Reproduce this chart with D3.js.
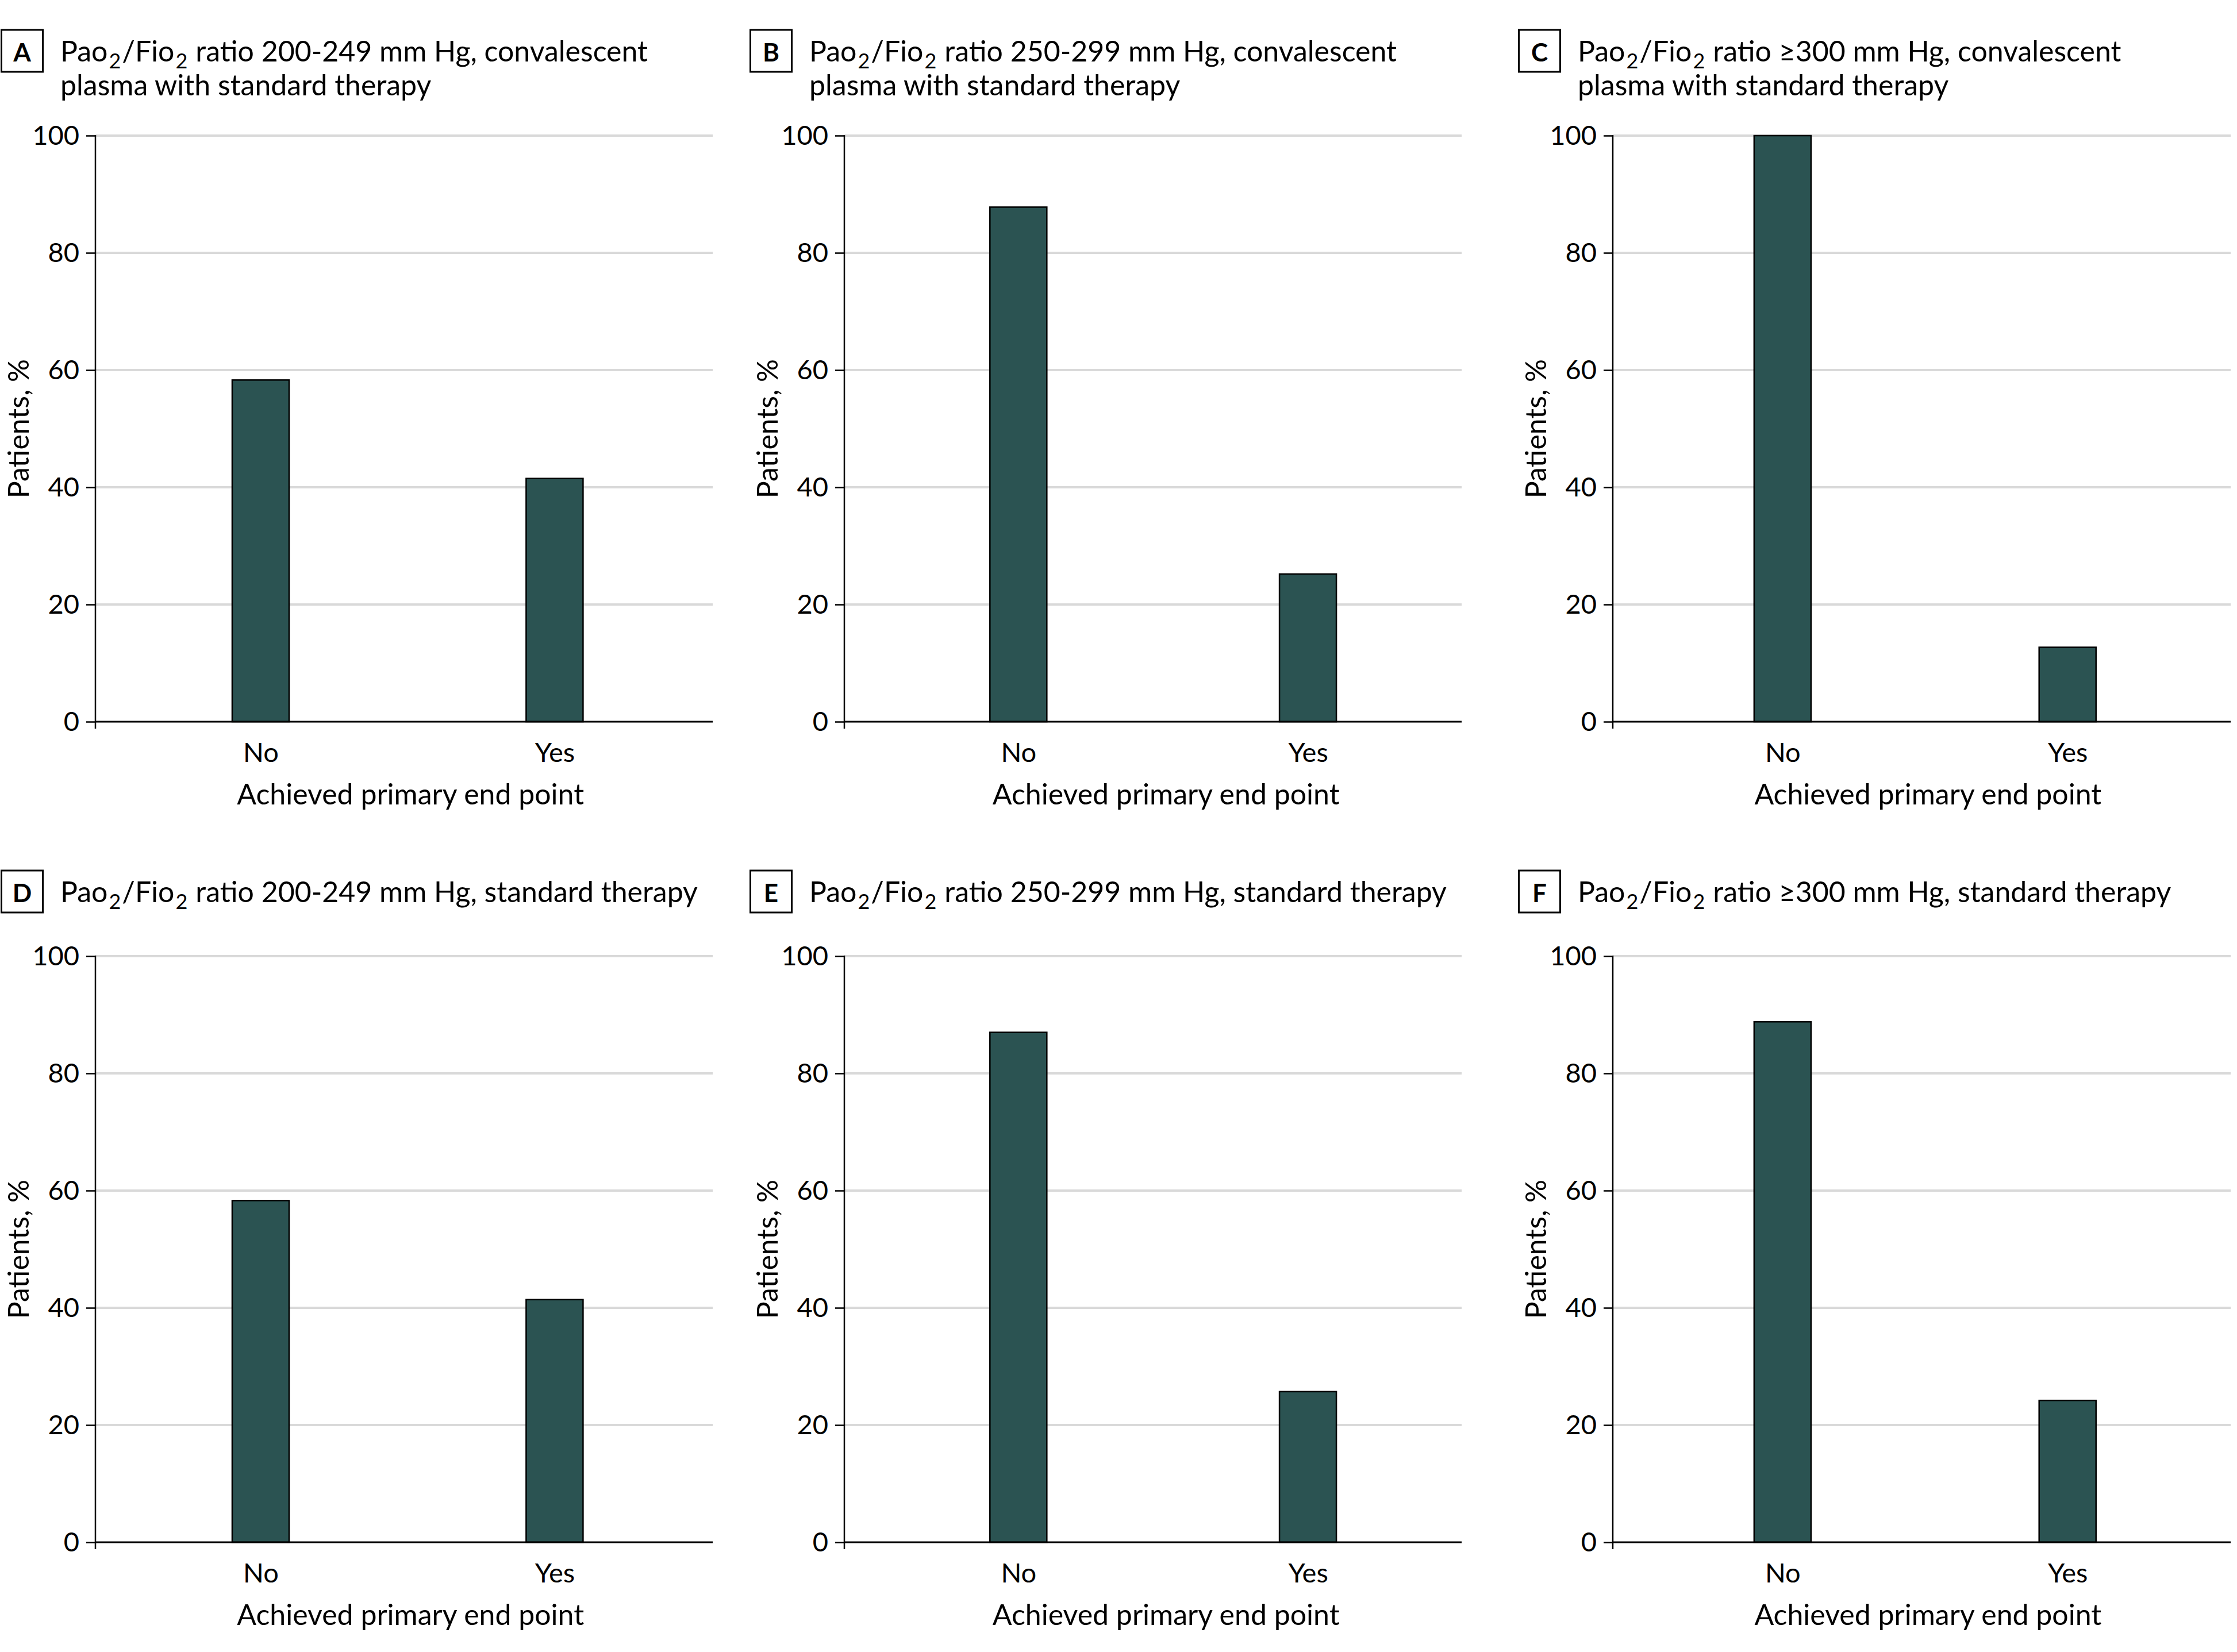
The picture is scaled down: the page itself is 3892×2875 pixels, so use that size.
<!DOCTYPE html>
<html>
<head>
<meta charset="utf-8">
<script src="https://cdn.jsdelivr.net/npm/d3@7"></script>
<style>
  html, body { margin: 0; padding: 0; background: #ffffff; }
  svg { display: block; }
  text { font-family: Lato, "Noto Sans", sans-serif; fill: #000; }
</style>
</head>
<body>
<script>
// ---------------- data ----------------
const categories = ["No", "Yes"];
const panelLetters = ["A", "B", "C", "D", "E", "F"];
const ratioRanges = ["200-249", "250-299", "≥300", "200-249", "250-299", "≥300"];
const therapies = [
  "convalescent plasma with standard therapy",
  "convalescent plasma with standard therapy",
  "convalescent plasma with standard therapy",
  "standard therapy",
  "standard therapy",
  "standard therapy"
];
const noValues  = [58.3, 87.8, 100, 58.3, 87.0, 88.8];
const yesValues = [41.5, 25.2, 12.7, 41.4, 25.7, 24.2];
const yTicks = [0, 20, 40, 60, 80, 100];
const yAxisTitle = "Patients, %";
const xAxisTitle = "Achieved primary end point";

// ---------------- layout ----------------
const W = 3892, H = 2875;
const cols = [
  { box: 1,    axis: 166,  right: 1240, pad: 0.550, align: 0.511 },
  { box: 1304, axis: 1469, right: 2543, pad: 0.566, align: 0.531 },
  { box: 2641, axis: 2806, right: 3881, pad: 0.584, align: 0.510 }
];
const rows = [
  { titleBase: 107,  top: 236,  bottom: 1256 },
  { titleBase: 1570, top: 1664, bottom: 2684 }
];
const barColor = "#2b5352";
const gridColor = "#d9d9d9";
const titleSize = 50, tickSize = 47, labelSize = 50;

const svg = d3.select("body").append("svg")
  .attr("width", W).attr("height", H)
  .attr("viewBox", `0 0 ${W} ${H}`);
svg.append("rect").attr("width", W).attr("height", H).attr("fill", "#fff");

function titleLines(i) {
  const rest = `ratio ${ratioRanges[i]} mm Hg, `;
  const head = [{t: "Pao"}, {t: "2", sub: true}, {t: "/Fio"}, {t: "2", sub: true, gap: 12}];
  if (i < 3) {
    return [
      head.concat([{t: rest + "convalescent"}]),
      [{t: "plasma with standard therapy"}]
    ];
  }
  return [head.concat([{t: rest + therapies[i]}])];
}

panelLetters.forEach((letter, i) => {
  const c = cols[i % 3], r = rows[Math.floor(i / 3)];
  const g = svg.append("g");

  // panel letter box
  g.append("rect")
    .attr("x", c.box + 1.5).attr("y", r.titleBase - 55)
    .attr("width", 72).attr("height", 73)
    .attr("fill", "none").attr("stroke", "#000").attr("stroke-width", 3);
  g.append("text")
    .attr("x", c.box + 37.5).attr("y", r.titleBase)
    .attr("text-anchor", "middle")
    .attr("font-size", 44).attr("font-weight", 700)
    .text(letter);

  // title: each segment its own text element, placed after the previous one
  const lines = titleLines(i);
  lines.forEach((segs, li) => {
    let cx = c.box + 104;
    const base = r.titleBase + li * 59;
    segs.forEach(s => {
      const fs = s.sub ? titleSize * 0.72 : titleSize;
      const t = g.append("text")
        .attr("x", cx).attr("y", base + (s.sub ? 12 : 0))
        .attr("font-size", fs)
        .text(s.t);
      cx += t.node().getComputedTextLength() + 2 + (s.gap || 0);
    });
  });

  // scales
  const y = d3.scaleLinear().domain([0, 100]).range([r.bottom, r.top]);
  const x = d3.scalePoint().domain(categories)
    .range([c.axis, c.right]).padding(c.pad).align(c.align);
  const barW = 99;

  // gridlines
  g.append("g").selectAll("line").data(yTicks.filter(d => d > 0)).join("line")
    .attr("x1", c.axis).attr("x2", c.right)
    .attr("y1", d => y(d)).attr("y2", d => y(d))
    .attr("stroke", gridColor).attr("stroke-width", 4);

  // bars
  const vals = [noValues[i], yesValues[i]];
  g.append("g").selectAll("rect").data(categories).join("rect")
    .attr("x", d => x(d) - barW / 2)
    .attr("width", barW)
    .attr("y", (d, k) => y(vals[k]))
    .attr("height", (d, k) => y(0) - y(vals[k]))
    .attr("fill", barColor).attr("stroke", "#000").attr("stroke-width", 2.5);

  // y axis
  const yAxis = d3.axisLeft(y).tickValues(yTicks).tickSize(16).tickPadding(12).tickSizeOuter(0);
  const ya = g.append("g").attr("transform", `translate(${c.axis},0)`).call(yAxis);
  ya.select(".domain").remove();
  ya.selectAll(".tick line").attr("stroke", "#000").attr("stroke-width", 2.5);
  ya.selectAll(".tick text").attr("font-size", tickSize).attr("font-family", "Lato, sans-serif").attr("fill", "#000");
  g.append("line")
    .attr("x1", c.axis).attr("x2", c.axis)
    .attr("y1", r.top - 1).attr("y2", r.bottom + 12)
    .attr("stroke", "#000").attr("stroke-width", 2.5);
  // x baseline
  g.append("line")
    .attr("x1", c.axis).attr("x2", c.right)
    .attr("y1", y(0)).attr("y2", y(0))
    .attr("stroke", "#000").attr("stroke-width", 3);

  // x axis labels
  const xAxis = d3.axisBottom(x).tickSize(0).tickPadding(0);
  const xa = g.append("g").attr("transform", `translate(0,${r.bottom})`).call(xAxis);
  xa.select(".domain").remove();
  xa.selectAll(".tick text")
    .attr("dy", null).attr("y", 70)
    .attr("font-size", tickSize).attr("font-family", "Lato, sans-serif").attr("fill", "#000");

  // axis titles
  g.append("text")
    .attr("x", (x("No") + x("Yes")) / 2 + 5).attr("y", r.bottom + 144)
    .attr("text-anchor", "middle").attr("font-size", labelSize)
    .text(xAxisTitle);
  g.append("text")
    .attr("transform", `translate(${c.axis - 116},${(r.top + r.bottom) / 2}) rotate(-90)`)
    .attr("text-anchor", "middle").attr("font-size", labelSize)
    .text(yAxisTitle);
});
</script>
</body>
</html>
